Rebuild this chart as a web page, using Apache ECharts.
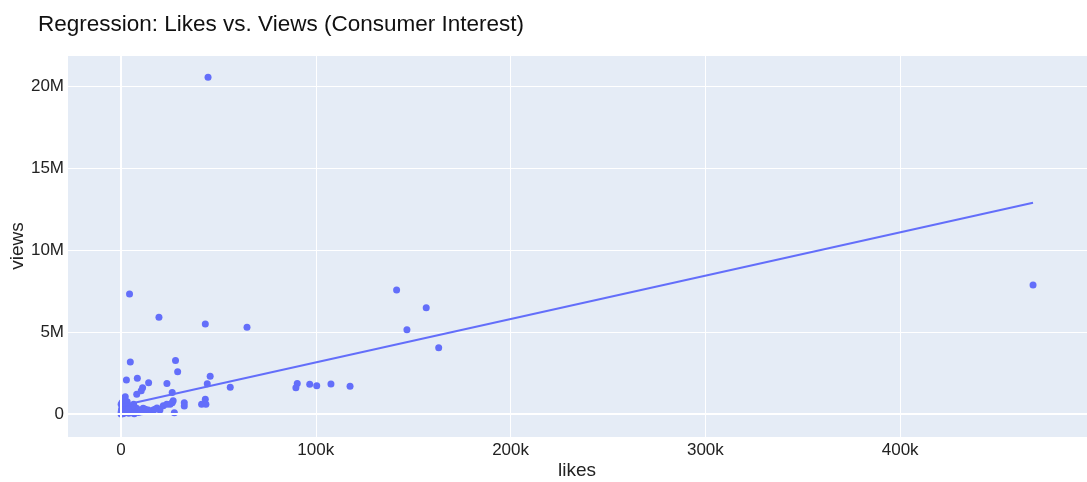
<!DOCTYPE html>
<html>
<head>
<meta charset="utf-8">
<script src="https://cdn.jsdelivr.net/npm/echarts@6/dist/echarts.min.js"></script>
<style>
  html, body { margin: 0; padding: 0; background: #fff; }
  #chart { width: 1087px; height: 482px; }
</style>
</head>
<body>
<div id="chart"></div>
<script>
// Per-video engagement: likes and views
const likes = [
  44.7, 4.4, 19.5, 43.3, 64.7, 141.5, 156.7, 146.8, 163.1, 468.2,
  4.8, 28.0, 29.1, 2.8, 8.4, 14.2, 11.1, 23.6, 45.8, 44.3,
  56.1, 90.5, 89.8, 96.9, 100.5, 107.8, 117.6, 43.3, 8.1, 26.3,
  2.2, 1.4, 10.4, 26.8, 26.3, 25.2, 32.5, 32.5, 41.4, 43.6,
  27.4, 21.7, 23.5, 18.5, 16.6, 15.8, 14.0, 11.4, 10.6, 20.0,
  17.5, 9.2, 12.0,
  0.2, 0.5, 1.0, 0.3, 0.8, 1.5, 2.0, 2.5, 3.0, 3.5,
  4.0, 4.5, 5.0, 5.5, 6.0, 6.5, 7.0, 7.5, 8.0, 9.0,
  0.1, 0.6, 1.2, 2.2, 3.2, 0.4, 1.8, 2.8, 4.2, 5.8,
  0.05, 0.15, 10.0, 12.5, 6.8, 3.8
].map(v => v * 1000);

const views = [
  20.55, 7.32, 5.91, 5.49, 5.29, 7.56, 6.48, 5.14, 4.04, 7.87,
  3.17, 3.26, 2.58, 2.07, 2.18, 1.91, 1.60, 1.87, 2.30, 1.85,
  1.63, 1.87, 1.60, 1.81, 1.73, 1.83, 1.69, 0.91, 1.20, 1.31,
  1.05, 0.85, 1.42, 0.81, 0.69, 0.59, 0.69, 0.49, 0.59, 0.59,
  0.08, 0.51, 0.59, 0.37, 0.24, 0.15, 0.24, 0.35, 0.14, 0.24,
  0.29, 0.24, 0.24,
  0.05, 0.10, 0.02, 0.30, 0.45, 0.20, 0.08, 0.35, 0.15, 0.55,
  0.05, 0.25, 0.40, 0.12, 0.30, 0.60, 0.08, 0.20, 0.35, 0.10,
  0.60, 0.70, 0.55, 0.65, 0.75, 0.20, 0.38, 0.50, 0.42, 0.48,
  0.01, 0.15, 0.18, 0.30, 0.02, 0.28
].map(v => v * 1e6);

// Fitted OLS trend: views = intercept + slope * likes
const trendIntercept = 0.5e6;
const trendSlope = 26.45;

// Axis ranges and labels
const xRange = [-27700, 495900];
const yRange = [-1400000, 21900000];
const xTickLabels = { 0: '0', 100000: '100k', 200000: '200k', 300000: '300k', 400000: '400k' };
const yTickLabels = { 0: '0', 5000000: '5M', 10000000: '10M', 15000000: '15M', 20000000: '20M' };

const points = likes.map((x, i) => [x, views[i]]);
const xMin = Math.min(...likes);
const xMax = Math.max(...likes);
const trend = [
  [xMin, trendIntercept + trendSlope * xMin],
  [xMax, trendIntercept + trendSlope * xMax]
];

const FONT = '"Liberation Sans", Arial, Helvetica, sans-serif';
const TEXT = '#222';
const ACCENT = '#636efa';

const chart = echarts.init(document.getElementById('chart'), null, { renderer: 'canvas' });
chart.setOption({
  animation: false,
  backgroundColor: '#ffffff',
  textStyle: { fontFamily: FONT },
  title: {
    text: 'Regression: Likes vs. Views (Consumer Interest)',
    left: 33, top: 8,
    textStyle: { fontFamily: FONT, fontSize: 22.5, fontWeight: 'normal', color: '#111' }
  },
  grid: {
    left: 67, right: 0, top: 55, bottom: 45,
    outerBoundsMode: 'none',
    containLabel: false,
    show: true, backgroundColor: '#e5ecf6', borderWidth: 0
  },
  xAxis: {
    type: 'value',
    min: xRange[0], max: xRange[1],
    splitNumber: 5,
    name: 'likes',
    nameLocation: 'middle',
    nameGap: 24,
    nameMoveOverlap: false,
    nameTextStyle: { fontFamily: FONT, fontSize: 19, color: TEXT },
    axisLine: { show: false },
    axisTick: { show: false },
    axisLabel: {
      fontFamily: FONT, fontSize: 17, color: TEXT, margin: 5,
      showMinLabel: false, showMaxLabel: false,
      formatter: v => (xTickLabels[v] !== undefined ? xTickLabels[v] : '')
    },
    splitLine: { show: true, lineStyle: { color: '#ffffff', width: 1 } }
  },
  yAxis: {
    type: 'value',
    min: yRange[0], max: yRange[1],
    splitNumber: 5,
    name: 'views',
    nameLocation: 'middle',
    nameGap: 40,
    nameMoveOverlap: false,
    nameTextStyle: { fontFamily: FONT, fontSize: 19, color: TEXT },
    axisLine: { show: false },
    axisTick: { show: false },
    axisLabel: {
      fontFamily: FONT, fontSize: 17, color: TEXT, margin: 3,
      showMinLabel: false, showMaxLabel: false,
      formatter: v => (yTickLabels[v] !== undefined ? yTickLabels[v] : '')
    },
    splitLine: { show: true, lineStyle: { color: '#ffffff', width: 1 } }
  },
  series: [
    {
      // zero lines sit beneath the markers
      type: 'line',
      data: [],
      z: 1,
      silent: true,
      markLine: {
        silent: true,
        symbol: 'none',
        label: { show: false },
        lineStyle: { color: '#ffffff', width: 2, type: 'solid' },
        data: [{ xAxis: 0 }, { yAxis: 0 }]
      }
    },
    {
      name: 'videos',
      type: 'scatter',
      data: points,
      symbol: 'circle',
      symbolSize: 7,
      itemStyle: { color: ACCENT, opacity: 1 },
      z: 3
    },
    {
      name: 'trend',
      type: 'line',
      data: trend,
      showSymbol: false,
      symbol: 'none',
      lineStyle: { color: ACCENT, width: 2 },
      z: 4
    }
  ]
});
</script>
</body>
</html>
